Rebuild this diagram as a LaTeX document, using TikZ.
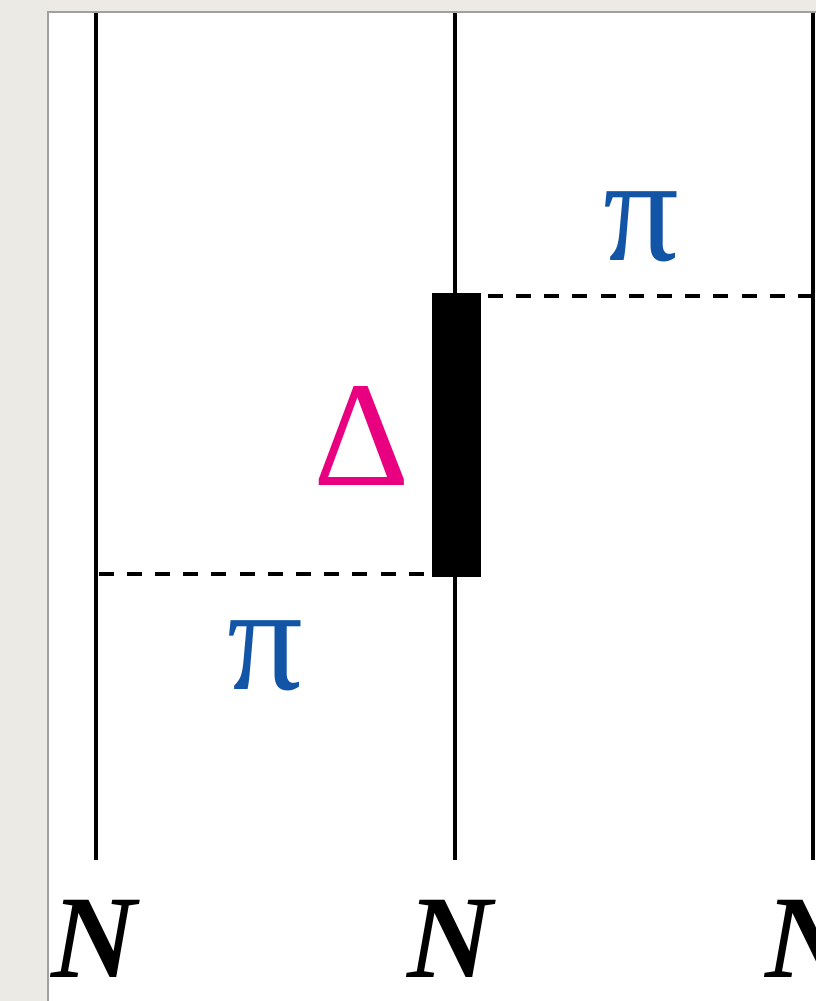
\documentclass[tikz,border=0pt]{standalone}
\usepackage{fontspec}
\setmainfont{Liberation Serif}
\usepackage{tikz}
\usetikzlibrary{positioning}
\definecolor{cPaper}{RGB}{236,234,229}
\definecolor{cFrame}{RGB}{160,160,160}
\definecolor{cPion}{RGB}{18,84,166}
\definecolor{cDelta}{RGB}{232,0,128}
\tikzset{
	nucleon/.style ={line width=4.5pt, black},
	pion/.style    ={line width=3.5pt, dash pattern=on 15pt off 13.2pt},
	dbox/.style    ={rectangle, fill=black, minimum width=49pt, minimum height=284pt, inner sep=0pt},
	nlabel/.style  ={font=\fontsize{118}{120}\selectfont\bfseries\itshape, inner sep=0pt, anchor=base},
	greek/.style   ={font=\fontsize{150}{150}\selectfont, inner sep=0pt},
}
\begin{document}
\begin{tikzpicture}[x=1pt, y=-1pt]
	\useasboundingbox (0,0) rectangle (816,1001);
	\fill[cPaper] (0,0) rectangle (816,1001);
	\fill[white] (48,12) rectangle (816,1001);
	\draw[cFrame, line width=2pt] (48,1001) |- (816,12);
	% nucleon lines
	\coordinate (n1top) at (96,13);   \coordinate (n1bot) at (96,860);
	\coordinate (n2top) at (455,13);  \coordinate (n2bot) at (455,860);
	\coordinate (n3top) at (813,13);  \coordinate (n3bot) at (813,860);
	\draw[nucleon] (n1top) -- (n1bot);
	\draw[nucleon] (n2top) -- (n2bot);
	\draw[nucleon] (n3top) -- (n3bot);
	\node[dbox] (delta) at (456,435) {};
	% pion exchange
	\draw[pion, dash phase=21.2pt] ([yshift=-3pt]delta.north east) -- ([yshift=-3pt]delta.north east -| n3top);
	\draw[pion, dash phase=25.7pt] ([yshift=3pt]delta.south west -| n1top) -- ([yshift=3pt]delta.south west);
	\node[greek, text=cPion] (pi1) at (641,227) {π};
	\node[greek, text=cPion] (pi2) at (265,656) {π};
	\node[greek, text=cDelta] (dlbl) at (362,436) {Δ};
	\node[nlabel] (N1) at (94,977) {N};
	\node[nlabel] (N2) at (450,977) {N};
	\node[nlabel] (N3) at (808,977) {N};
\end{tikzpicture}
\end{document}
